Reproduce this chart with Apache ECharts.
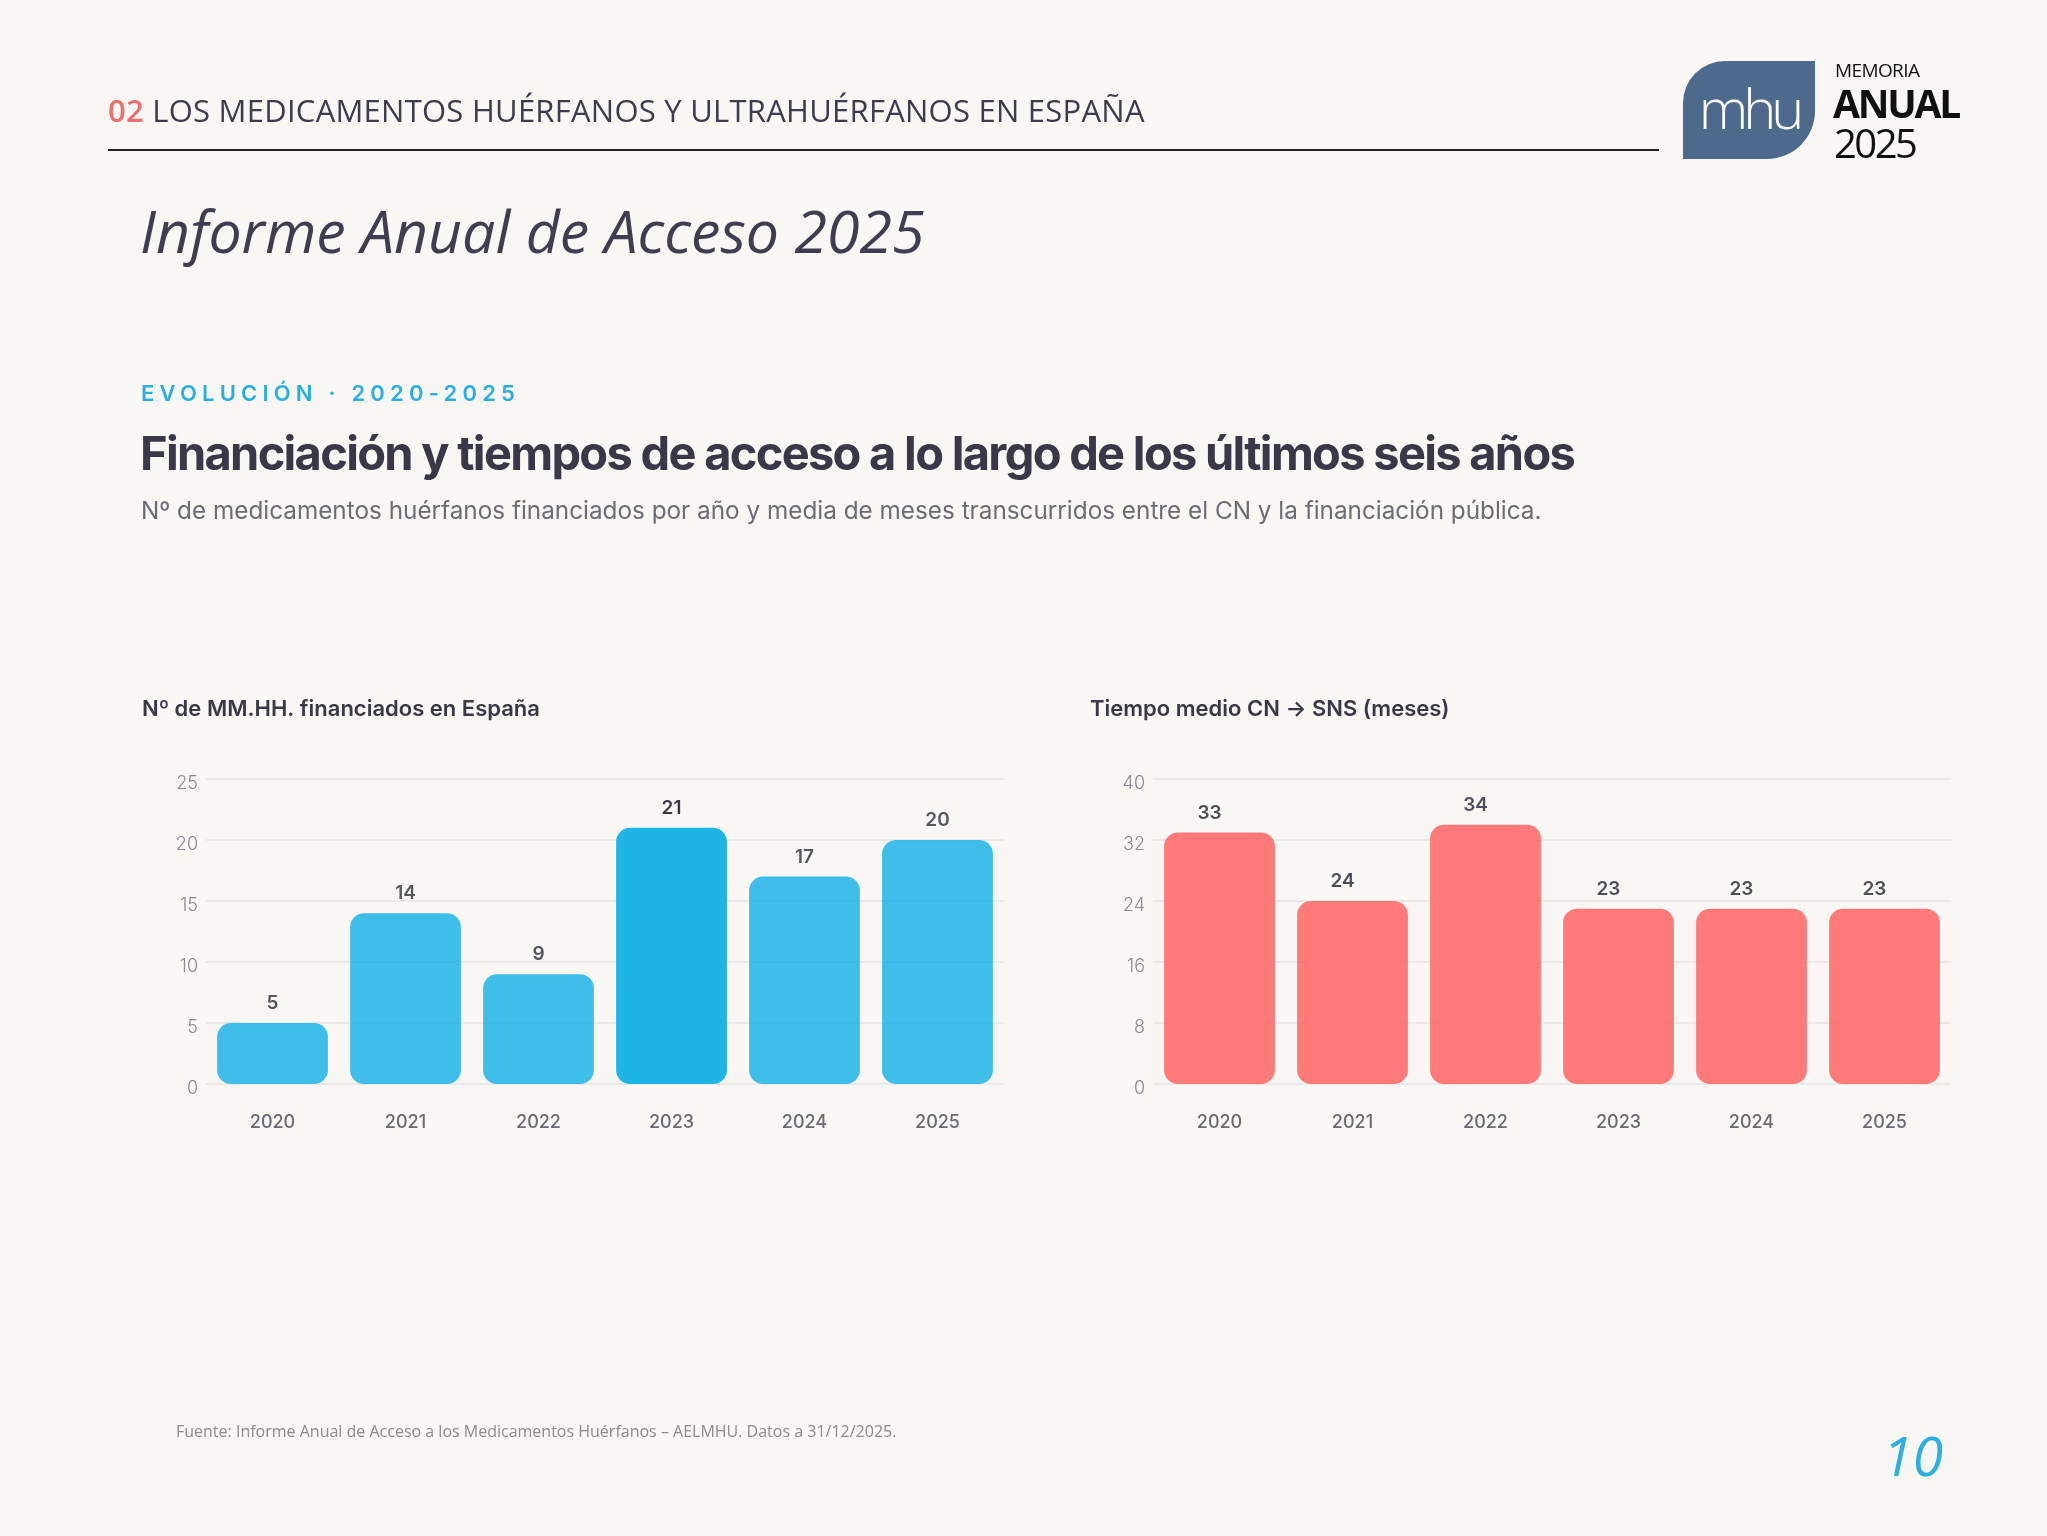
<!DOCTYPE html>
<html lang="es">
<head>
<meta charset="utf-8">
<title>Informe Anual de Acceso 2025</title>
<script src="https://cdn.jsdelivr.net/npm/echarts@6/dist/echarts.min.js"></script>
<style>
  html, body { margin: 0; padding: 0; background: #f9f7f3; }
  #page { position: relative; width: 2047px; height: 1536px; overflow: hidden; }
  #chart { position: absolute; left: 0; top: 0; width: 2047px; height: 1536px; }
  .txt { position: absolute; white-space: nowrap; line-height: 1; z-index: 2; }
  #section { left: 108px; top: 89px; font: 31px "Open Sans"; color: #3d3b4d; letter-spacing: 0.25px; }
  #section b { color: #ef6e6c; font-weight: 600; }
  #rule { position: absolute; left: 108px; top: 149px; width: 1551px; height: 2px; background: #222; }
  #logo { position: absolute; left: 1683px; top: 61px; width: 132px; height: 98px;
          background: #4d6a8c; border-radius: 42px 0 48px 0; z-index: 2;
          color: #fff; font: 300 56px "Open Sans"; text-align: center; line-height: 92px; letter-spacing: -5px; }
  #mem1 { left: 1835px; top: 57px; font: 19px "Open Sans"; color: #111; letter-spacing: -0.6px; }
  #mem2 { left: 1833px; top: 76px; font: 700 39px "Open Sans"; color: #111; letter-spacing: -2.2px; }
  #mem3 { left: 1834px; top: 115px; font: 40px "Open Sans"; color: #111; letter-spacing: -2.5px; }
  #informe { left: 140px; top: 190px; font: italic 59px "Open Sans"; color: #3f3d4f; }
  #kicker { left: 141px; top: 380px; font: 600 22px Inter; color: #29aee0; letter-spacing: 5.2px; }
  #headline { left: 140px; top: 424px; font: 700 47px Inter; color: #3a3848; letter-spacing: -1.7px; }
  #sub { left: 141px; top: 495px; font: 400 24.3px Inter; color: #6d6b76; }
  #source { left: 176px; top: 1420px; font: 16px "Open Sans"; color: #8c8a8a; }
  #pageno { right: 104px; top: 1417px; font: italic 55px "Open Sans"; color: #2cb0e3; }
</style>
</head>
<body>
<div id="page">
  <div id="chart"></div>
  <div class="txt" id="section"><b>02</b> LOS MEDICAMENTOS HUÉRFANOS Y ULTRAHUÉRFANOS EN ESPAÑA</div>
  <div id="rule"></div>
  <div id="logo">mhu</div>
  <div class="txt" id="mem1">MEMORIA</div>
  <div class="txt" id="mem2">ANUAL</div>
  <div class="txt" id="mem3">2025</div>
  <div class="txt" id="informe">Informe Anual de Acceso 2025</div>
  <div class="txt" id="kicker">EVOLUCIÓN · 2020-2025</div>
  <div class="txt" id="headline">Financiación y tiempos de acceso a lo largo de los últimos seis años</div>
  <div class="txt" id="sub">Nº de medicamentos huérfanos financiados por año y media de meses transcurridos entre el CN y la financiación pública.</div>
  <div class="txt" id="source">Fuente: Informe Anual de Acceso a los Medicamentos Huérfanos – AELMHU. Datos a 31/12/2025.</div>
  <div class="txt" id="pageno">10</div>
</div>
<script>
  /** Data */
  var years = ['2020', '2021', '2022', '2023', '2024', '2025'];
  var financiados = [5, 14, 9, 21, 17, 20];
  var mesesMedios = [33, 24, 34, 23, 23, 23];
  var highlightYear = '2023';

  var font = 'Inter';
  var ink = '#3a3848';

  function yAxis(gridIndex, max, interval) {
    return {
      type: 'value',
      gridIndex: gridIndex,
      min: 0,
      max: max,
      interval: interval,
      axisLine: { show: false },
      axisTick: { show: false },
      axisLabel: {
        margin: 8,
        formatter: '{v|{value}}',
        rich: {
          v: { padding: [9, 0, 0, 0], color: '#8a8893', fontFamily: font, fontWeight: 300, fontSize: 18 }
        }
      },
      splitLine: { lineStyle: { color: '#e6e3e6', width: 1.5 } }
    };
  }

  function xAxis(gridIndex) {
    return {
      type: 'category',
      gridIndex: gridIndex,
      data: years,
      axisLine: { show: false },
      axisTick: { show: false },
      axisLabel: { margin: 30, color: '#6b6975', fontFamily: font, fontWeight: 500, fontSize: 18 }
    };
  }

  var blueData = financiados.map(function(v, i) {
    var hot = years[i] === highlightYear;
    return { value: v, itemStyle: { color: '#1eb4e6', opacity: hot ? 1 : 0.85 } };
  });

  var option = {
    animation: false,
    title: [{
      text: 'Nº de MM.HH. financiados en España',
      left: 137, top: 693,
      textStyle: { fontFamily: font, fontWeight: 600, fontSize: 22, color: ink }
    }, {
      text: 'Tiempo medio CN → SNS (meses)',
      left: 1085, top: 693,
      textStyle: { fontFamily: font, fontWeight: 600, fontSize: 22, color: ink }
    }],
    grid: [
      { left: 206, right: 1043, top: 779, bottom: 452 },
      { left: 1153, right: 96, top: 779, bottom: 452 }
    ],
    xAxis: [xAxis(0), xAxis(1)],
    yAxis: [yAxis(0, 25, 5), yAxis(1, 40, 8)],
    series: [{
      type: 'bar',
      xAxisIndex: 0,
      yAxisIndex: 0,
      data: blueData,
      barCategoryGap: '16.7%',
      itemStyle: { borderRadius: 14 },
      label: {
        show: true, position: 'top', distance: 10,
        fontFamily: font, fontWeight: 600, fontSize: 19, color: ink
      }
    }, {
      type: 'bar',
      xAxisIndex: 1,
      yAxisIndex: 1,
      data: mesesMedios,
      barCategoryGap: '16.7%',
      itemStyle: { color: '#ff6b6b', opacity: 0.9, borderRadius: 14 },
      label: {
        show: true, position: 'top', distance: 10, offset: [-10, 0],
        fontFamily: font, fontWeight: 600, fontSize: 19, color: ink
      }
    }]
  };

  echarts.init(document.getElementById('chart')).setOption(option);
</script>
</body>
</html>
